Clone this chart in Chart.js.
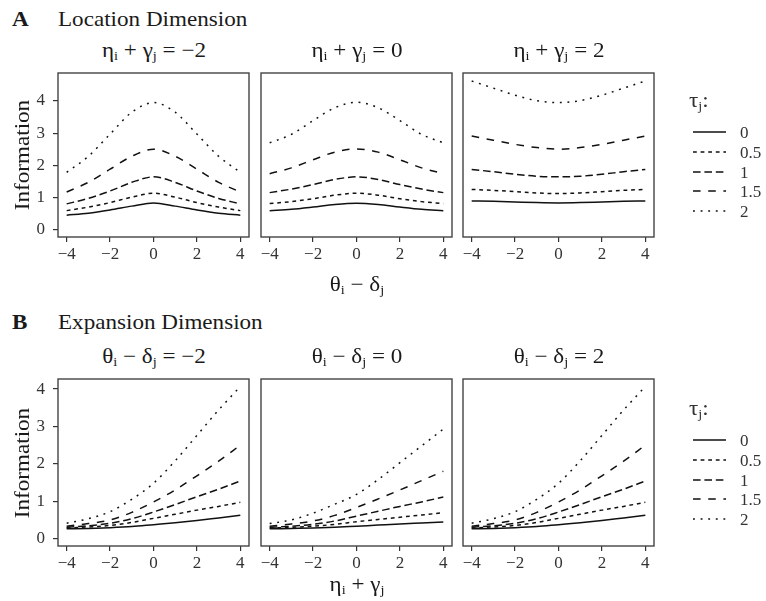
<!DOCTYPE html>
<html>
<head>
<meta charset="utf-8">
<script src="https://cdn.jsdelivr.net/npm/chart.js@4.4.1/dist/chart.umd.min.js"></script>
<style>
  body { margin: 0; background: #fff; }
  #wrap { position: relative; width: 766px; height: 601px; overflow: hidden;
          font-family: "Liberation Serif", "Times New Roman", serif; color: #1a1a1a; }
  #wrap canvas { position: absolute; }
  .abs { position: absolute; white-space: nowrap; line-height: 1; }
  .main { font-size: 21px; }
  .letter { font-size: 21px; font-weight: bold; }
  .ptitle { font-size: 21px; }
  .axtitle { font-size: 21px; }
  .leg { font-size: 17px; color: #333; }
  .tau { font-size: 21px; color: #333; }
  sub { font-size: 0.62em; line-height: 0; vertical-align: -0.3em; }
</style>
</head>
<body>
<div id="wrap"></div>
<script>
// x grid shared by every panel
const xValues = [-4, -3, -2, -1, 0, 1, 2, 3, 4];
const xTicks = [-4, -2, 0, 2, 4];
const yTicks = [0, 1, 2, 3, 4];
const tauLabels = ['0', '0.5', '1', '1.5', '2'];

// A: Location dimension, one panel per value of eta_i + gamma_j
const locPanels = [-2, 0, 2];
// each row: tau = 0, 0.5, 1, 1.5, 2
const locNeg2 = [
  [0.45, 0.51, 0.61, 0.73, 0.83, 0.73, 0.61, 0.51, 0.45],
  [0.59, 0.70, 0.84, 1.01, 1.13, 1.01, 0.84, 0.70, 0.59],
  [0.80, 0.97, 1.20, 1.47, 1.64, 1.47, 1.20, 0.97, 0.80],
  [1.17, 1.47, 1.88, 2.28, 2.50, 2.28, 1.88, 1.47, 1.17],
  [1.78, 2.28, 2.97, 3.65, 3.95, 3.65, 2.97, 2.28, 1.78]
];
const locZero = [
  [0.59, 0.63, 0.70, 0.78, 0.82, 0.78, 0.70, 0.63, 0.59],
  [0.81, 0.87, 0.96, 1.07, 1.13, 1.07, 0.96, 0.87, 0.81],
  [1.15, 1.26, 1.40, 1.56, 1.64, 1.56, 1.40, 1.26, 1.15],
  [1.74, 1.92, 2.17, 2.41, 2.51, 2.41, 2.17, 1.92, 1.74],
  [2.70, 2.96, 3.39, 3.79, 3.96, 3.79, 3.39, 2.96, 2.70]
];
const locPos2 = [
  [0.89, 0.88, 0.86, 0.84, 0.83, 0.84, 0.86, 0.88, 0.89],
  [1.25, 1.22, 1.18, 1.14, 1.12, 1.14, 1.18, 1.22, 1.25],
  [1.87, 1.80, 1.72, 1.66, 1.64, 1.66, 1.72, 1.80, 1.87],
  [2.91, 2.78, 2.65, 2.55, 2.50, 2.55, 2.65, 2.78, 2.91],
  [4.62, 4.40, 4.18, 4.01, 3.95, 4.01, 4.18, 4.40, 4.62]
];

// B: Expansion dimension, one panel per value of theta_i - delta_j
const expPanels = [-2, 0, 2];
const expNeg2 = [
  [0.26, 0.27, 0.29, 0.32, 0.37, 0.42, 0.48, 0.55, 0.62],
  [0.28, 0.31, 0.35, 0.43, 0.54, 0.65, 0.76, 0.86, 0.97],
  [0.30, 0.34, 0.41, 0.53, 0.71, 0.91, 1.12, 1.32, 1.54],
  [0.33, 0.40, 0.50, 0.70, 0.98, 1.30, 1.68, 2.07, 2.50],
  [0.41, 0.53, 0.72, 1.05, 1.48, 2.08, 2.76, 3.44, 4.07]
];
const expZero = [
  [0.26, 0.27, 0.28, 0.30, 0.33, 0.36, 0.39, 0.415, 0.44],
  [0.28, 0.30, 0.33, 0.38, 0.45, 0.51, 0.57, 0.63, 0.69],
  [0.30, 0.33, 0.38, 0.47, 0.60, 0.73, 0.86, 0.98, 1.11],
  [0.33, 0.39, 0.47, 0.62, 0.83, 1.06, 1.30, 1.55, 1.80],
  [0.40, 0.50, 0.68, 0.92, 1.18, 1.58, 2.03, 2.48, 2.93]
];
const expPos2 = [
  [0.26, 0.27, 0.29, 0.32, 0.37, 0.42, 0.48, 0.55, 0.62],
  [0.28, 0.31, 0.35, 0.43, 0.54, 0.65, 0.76, 0.86, 0.97],
  [0.30, 0.34, 0.41, 0.53, 0.71, 0.91, 1.12, 1.32, 1.54],
  [0.33, 0.40, 0.50, 0.70, 0.98, 1.30, 1.68, 2.07, 2.50],
  [0.41, 0.53, 0.72, 1.05, 1.48, 2.08, 2.76, 3.44, 4.07]
];

// line types for tau (ggplot solid, 22, 42, 44, 13)
const dashes = [[], [3.8, 3.8], [7.6, 3.8], [7.6, 7.6], [1.9, 5.7]];

// layout
const panelLeft = [58, 261, 463];
const panelW = 191;
const rowTop = [73, 379];
const rowH = [164, 167];
const rowY = [[-0.23, 4.87], [-0.2, 4.27]];
const Y_AXIS_W = 40;
const X_AXIS_H = 26;
const PAD_X = 14;
const PAD_T = 2;
const FONT = "'Liberation Serif', 'Times New Roman', serif";
const STRETCH = 1.1;

const wrap = document.getElementById('wrap');

function fmt(v) {
  return v < 0 ? '\u2212' + Math.abs(v) : String(v);
}

const boxPlugin = {
  id: 'panelBox',
  afterDraw(chart) {
    const a = chart.chartArea;
    const ctx = chart.ctx;
    ctx.save();
    ctx.strokeStyle = '#444';
    ctx.lineWidth = 1.4;
    ctx.strokeRect(a.left, a.top, a.right - a.left, a.bottom - a.top);
    ctx.restore();
  }
};

function buildPanel(series, row, col) {
  const showY = col === 0;
  const leftSpace = showY ? Y_AXIS_W : PAD_X;
  const canvas = document.createElement('canvas');
  const w = panelW + leftSpace + PAD_X;
  const h = rowH[row] + PAD_T + X_AXIS_H;
  canvas.width = w;
  canvas.height = h;
  canvas.style.width = w + 'px';
  canvas.style.height = h + 'px';
  canvas.style.left = (panelLeft[col] - leftSpace) + 'px';
  canvas.style.top = (rowTop[row] - PAD_T) + 'px';
  wrap.appendChild(canvas);

  new Chart(canvas, {
    type: 'line',
    data: {
      datasets: series.map((vals, k) => ({
        label: tauLabels[k],
        data: xValues.map((x, i) => ({ x: x, y: vals[i] })),
        borderColor: '#111',
        borderWidth: 1.5,
        borderDash: dashes[k],
        borderCapStyle: 'butt',
        pointRadius: 0,
        fill: false,
        cubicInterpolationMode: 'monotone'
      }))
    },
    options: {
      responsive: false,
      animation: false,
      events: [],
      layout: { padding: { top: PAD_T, right: PAD_X, bottom: 0, left: showY ? 0 : PAD_X } },
      plugins: { legend: { display: false }, tooltip: { enabled: false } },
      scales: {
        x: {
          type: 'linear',
          min: -4.4,
          max: 4.4,
          afterBuildTicks: s => { s.ticks = xTicks.map(v => ({ value: v })); },
          afterFit: s => { s.height = X_AXIS_H; s.paddingLeft = 0; s.paddingRight = 0; },
          grid: { drawOnChartArea: false, drawTicks: true, tickLength: 5, color: '#333', lineWidth: 1.2 },
          border: { display: false },
          ticks: {
            padding: 2, color: '#333', maxRotation: 0, autoSkip: false,
            font: { family: FONT, size: 17 },
            callback: v => fmt(v)
          }
        },
        y: {
          type: 'linear',
          display: showY,
          min: rowY[row][0],
          max: rowY[row][1],
          afterBuildTicks: s => { s.ticks = yTicks.map(v => ({ value: v })); },
          afterFit: s => { s.width = showY ? Y_AXIS_W : 0; s.paddingTop = 0; s.paddingBottom = 0; },
          grid: { drawOnChartArea: false, drawTicks: true, tickLength: 5, color: '#333', lineWidth: 1.2 },
          border: { display: false },
          ticks: {
            padding: 8, color: '#333',
            font: { family: FONT, size: 17 },
            callback: v => fmt(v)
          }
        }
      }
    },
    plugins: [boxPlugin]
  });
}

function put(html, x, y, cls, how) {
  const d = document.createElement('div');
  d.className = 'abs ' + cls;
  d.innerHTML = html;
  d.style.left = x + 'px';
  d.style.top = y + 'px';
  if (how === 'left') {
    d.style.transformOrigin = '0 50%';
    d.style.transform = 'translate(0,-50%) scaleX(' + STRETCH + ')';
  } else if (how === 'rot') {
    d.style.transform = 'translate(-50%,-50%) rotate(-90deg) scaleX(' + STRETCH + ')';
  } else if (how === 'plain') {
    d.style.transform = 'translate(0,-50%)';
  } else {
    d.style.transform = 'translate(-50%,-50%) scaleX(' + STRETCH + ')';
  }
  wrap.appendChild(d);
}

function legend(top) {
  put('\u03c4<sub>j</sub>:', 689, top, 'tau', 'left');
  tauLabels.forEach((t, k) => {
    const y = top + 32 + k * 19.8;
    const svg = '<svg width="33" height="4" style="display:block"><line x1="0" y1="2" x2="33" y2="2" stroke="#111" stroke-width="1.5" stroke-dasharray="' +
      (dashes[k].length ? dashes[k].join(',') : 'none') + '"/></svg>';
    put(svg, 693, y, '', 'plain');
    put(t, 740, y, 'leg', 'plain');
  });
}

// row A
[locNeg2, locZero, locPos2].forEach((s, c) => buildPanel(s, 0, c));
// row B
[expNeg2, expZero, expPos2].forEach((s, c) => buildPanel(s, 1, c));

put('A', 12, 19, 'letter', 'left');
put('Location Dimension', 58, 19, 'main', 'left');
put('B', 12, 322, 'letter', 'left');
put('Expansion Dimension', 58, 322, 'main', 'left');

locPanels.forEach((v, c) => {
  put('\u03b7<sub>i</sub> + \u03b3<sub>j</sub> = ' + fmt(v), panelLeft[c] + panelW / 2, 50, 'ptitle');
});
expPanels.forEach((v, c) => {
  put('\u03b8<sub>i</sub> \u2212 \u03b4<sub>j</sub> = ' + fmt(v), panelLeft[c] + panelW / 2, 356, 'ptitle');
});

put('\u03b8<sub>i</sub> \u2212 \u03b4<sub>j</sub>', panelLeft[1] + panelW / 2, 284, 'axtitle');
put('\u03b7<sub>i</sub> + \u03b3<sub>j</sub>', panelLeft[1] + panelW / 2, 584, 'axtitle');
put('Information', 22, rowTop[0] + rowH[0] / 2, 'axtitle', 'rot');
put('Information', 22, rowTop[1] + rowH[1] / 2, 'axtitle', 'rot');

legend(100);
legend(408);
</script>
</body>
</html>
